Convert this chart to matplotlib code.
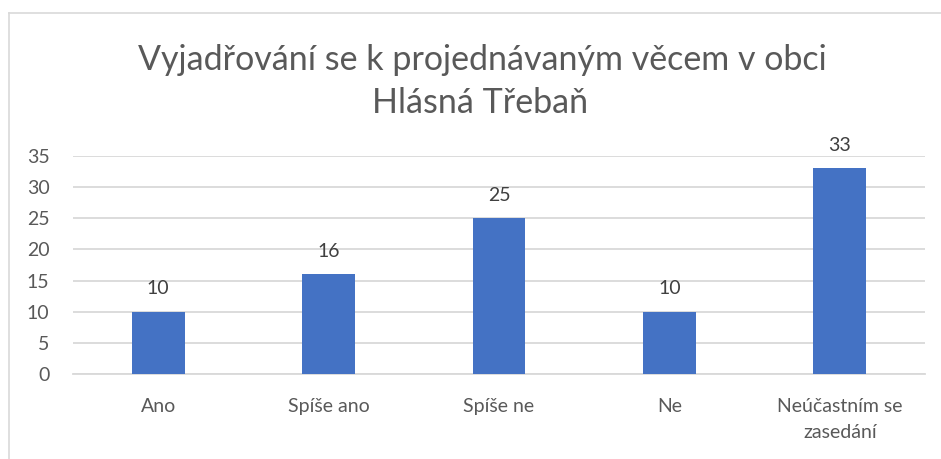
import matplotlib
matplotlib.use("Agg")
import matplotlib.pyplot as plt
from matplotlib.lines import Line2D

categories = ["Ano", "Spíše ano", "Spíše ne", "Ne", "Neúčastním se\nzasedání"]
values = [10, 16, 25, 10, 33]
yticks = [0, 5, 10, 15, 20, 25, 30, 35]
title_lines = ["Vyjadřování se k projednávaným věcem v obci", "Hlásná Třebaň"]

FONT = ["Lato", "DejaVu Sans"]
W, H = 941, 459
fig = plt.figure(figsize=(W / 100, H / 100), dpi=100)
ax = fig.add_axes([73 / W, 1 - 374 / H, (925 - 73) / W, (374 - 156) / H])

x = list(range(len(categories)))
ax.bar(x, values, width=0.31, color="#4472C4", zorder=3)
for xi, v in zip(x, values):
    ax.annotate(str(v), (xi, v), xytext=(0, 10.5), textcoords="offset points",
                ha="center", va="bottom", fontsize=14, color="#404040", family=FONT)

ax.set_xlim(-0.5, len(categories) - 0.5)
ax.set_ylim(0, 35)
ax.set_yticks(yticks)
ax.set_xticks(x)
ax.set_xticklabels(categories, fontsize=14, color="#595959", family=FONT, linespacing=1.65)
ax.set_yticklabels([str(t) for t in yticks], fontsize=14, color="#595959", family=FONT)
ax.tick_params(axis="both", length=0)
ax.tick_params(axis="y", pad=17)
ax.tick_params(axis="x", pad=17.5)
ax.grid(axis="y", color="#D9D9D9", linewidth=1.3, zorder=0)
for s in ["top", "right", "left"]:
    ax.spines[s].set_visible(False)
ax.spines["bottom"].set_color("#D9D9D9")
ax.spines["bottom"].set_linewidth(1.3)

fig.text(482 / W, 1 - 70 / H, title_lines[0], ha="center", va="baseline",
         fontsize=24.5, color="#595959", family=FONT, fontweight="normal")
fig.text(480 / W, 1 - 113 / H, title_lines[1], ha="center", va="baseline",
         fontsize=24.5, color="#595959", family=FONT, fontweight="normal")

# chart area border (top and left visible)
fig.add_artist(Line2D([9 / W, 1.0], [1 - 12.5 / H, 1 - 12.5 / H], transform=fig.transFigure,
                      color="#D9D9D9", linewidth=1.2))
fig.add_artist(Line2D([9 / W, 9 / W], [0, 1 - 12.5 / H], transform=fig.transFigure,
                      color="#D9D9D9", linewidth=1.2))

fig.savefig("out.png", dpi=100)
